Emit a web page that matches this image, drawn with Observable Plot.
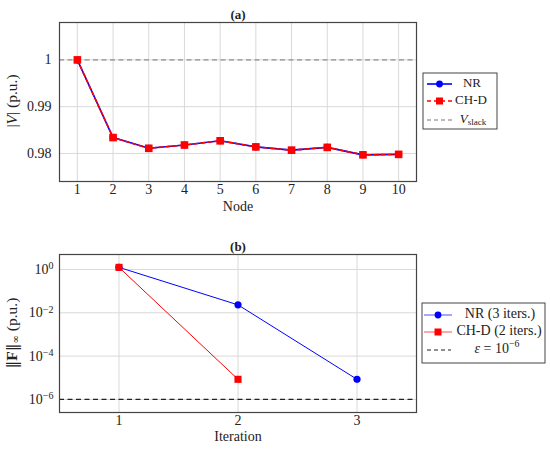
<!DOCTYPE html>
<html>
<head>
<meta charset="utf-8">
<script src="https://cdn.jsdelivr.net/npm/d3@7"></script>
<script src="https://cdn.jsdelivr.net/npm/@observablehq/plot@0.6"></script>
<style>
  html, body { margin: 0; padding: 0; background: white; }
  #chart { width: 550px; }
  #chart svg { display: block; }
</style>
</head>
<body>
<div id="chart"></div>
<script>
// ---- Data (a): voltage magnitude per node
const nodes = [1, 2, 3, 4, 5, 6, 7, 8, 9, 10];
const vNR  = [1.0000, 0.9834, 0.9811, 0.9818, 0.9827, 0.9814, 0.9807, 0.9813, 0.9797, 0.9798];
const vCHD = [1.0000, 0.9834, 0.9811, 0.9818, 0.9827, 0.9814, 0.9807, 0.9813, 0.9797, 0.9798];
const vSlack = 1.0;
const yTicksA = [0.98, 0.99, 1];

// ---- Data (b): residual norm per iteration
const iterNR = [1, 2, 3];
const resNR = [1.25, 0.0232, 8.5e-6];
const iterCHD = [1, 2];
const resCHD = [1.25, 8.5e-6];
const epsTol = 1e-6;
const iterTicks = [1, 2, 3];
const yTicksB = [1, 1e-2, 1e-4, 1e-6];

const dataA = nodes.map((n, i) => ({node: n, nr: vNR[i], chd: vCHD[i]}));
const dataNR = iterNR.map((k, i) => ({it: k, r: resNR[i]}));
const dataCHD = iterCHD.map((k, i) => ({it: k, r: resCHD[i]}));

const FONT = "Liberation Serif, Times New Roman, serif";
const expOf = d => Math.round(Math.log10(d));
const pow10 = d => "10^" + expOf(d);
const fmtA = d => d === 1 ? "1" : d3.format(".2f")(d);
const fmtInt = d => String(d);

const gridStyle = {stroke: "#d9d9d9", strokeOpacity: 1, strokeWidth: 1};
const TS = 14;

const plotA = Plot.plot({
  width: 550, height: 225,
  marginLeft: 59, marginRight: 134, marginTop: 22, marginBottom: 44,
  style: {fontFamily: FONT, fontSize: TS + "px", background: "white", color: "#222"},
  x: {domain: [0.5, 10.5], ticks: nodes, tickFormat: fmtInt, label: null},
  y: {domain: [0.974, 1.008], ticks: yTicksA, tickFormat: fmtA, label: null},
  marks: [
    Plot.gridX(nodes, gridStyle),
    Plot.gridY(yTicksA, gridStyle),
    Plot.ruleY([vSlack], {stroke: "#777", strokeWidth: 1, strokeDasharray: "5,3.5"}),
    Plot.line(dataA, {x: "node", y: "nr", stroke: "#0000ff", strokeWidth: 1.6}),
    Plot.dot(dataA, {x: "node", y: "nr", fill: "#0000ff", r: 3.5}),
    Plot.line(dataA, {x: "node", y: "chd", stroke: "#ff0000", strokeWidth: 1.6, strokeDasharray: "4,3"}),
    Plot.dot(dataA, {x: "node", y: "chd", symbol: "square", fill: "#ff0000", r: 4.3}),
    Plot.frame({stroke: "#444", strokeWidth: 1.2}),
    Plot.axisX(nodes, {tickSize: 0, tickPadding: 3, label: null, tickFormat: fmtInt, fontSize: TS, fontFamily: FONT}),
    Plot.axisY(yTicksA, {tickSize: 0, tickPadding: 8, label: null, tickFormat: fmtA, fontSize: TS, fontFamily: FONT}),
    Plot.text(["Node"], {frameAnchor: "bottom", dy: 29, fontSize: TS, fontFamily: FONT, fill: "#222"}),
    Plot.text(["(a)"], {frameAnchor: "top", dy: -13, fontSize: 13, fontFamily: FONT, fontWeight: "bold", fill: "#222"})
  ]
});

const plotB = Plot.plot({
  width: 550, height: 225,
  marginLeft: 59, marginRight: 134, marginTop: 29, marginBottom: 38,
  style: {fontFamily: FONT, fontSize: TS + "px", background: "white", color: "#222"},
  x: {domain: [0.5, 3.5], ticks: iterTicks, tickFormat: fmtInt, label: null},
  y: {type: "log", domain: [2.5e-7, 4.9], ticks: yTicksB, tickFormat: pow10, label: null},
  marks: [
    Plot.gridX(iterTicks, gridStyle),
    Plot.gridY(yTicksB, gridStyle),
    Plot.ruleY([epsTol], {stroke: "#222", strokeWidth: 1.2, strokeDasharray: "5,3.5"}),
    Plot.line(dataNR, {x: "it", y: "r", stroke: "#0000ff", strokeWidth: 1}),
    Plot.dot(dataNR, {x: "it", y: "r", fill: "#0000ff", r: 3.6}),
    Plot.line(dataCHD, {x: "it", y: "r", stroke: "#ff0000", strokeWidth: 1}),
    Plot.dot(dataCHD, {x: "it", y: "r", symbol: "square", fill: "#ff0000", r: 4}),
    Plot.frame({stroke: "#444", strokeWidth: 1.2}),
    Plot.axisX(iterTicks, {tickSize: 0, tickPadding: 3, label: null, tickFormat: fmtInt, fontSize: TS, fontFamily: FONT}),
    Plot.axisY(yTicksB, {tickSize: 0, tickPadding: 6, label: null, tickFormat: pow10, fontSize: TS, fontFamily: FONT}),
    Plot.text(["Iteration"], {frameAnchor: "bottom", dy: 28, fontSize: TS, fontFamily: FONT, fill: "#222"}),
    Plot.text(["(b)"], {frameAnchor: "top", dy: -13, fontSize: 13, fontFamily: FONT, fontWeight: "bold", fill: "#222"})
  ]
});

document.getElementById("chart").append(plotA, plotB);

// ---- Turn "10^k" tick labels into 10 with a real superscript
d3.select(plotB).selectAll("text").each(function() {
  const el = d3.select(this);
  const s = el.text();
  const m = /^10\^(-?\d+)$/.exec(s);
  if (!m) return;
  el.text("");
  el.append("tspan").text("10");
  el.append("tspan").attr("font-size", 10).attr("dy", "-0.45em").text(m[1].replace("-", "−"));
});

// ---- Rotated y labels with italic / bold / subscript parts
function addYLabel(svg, cy, parts) {
  const t = d3.select(svg).append("text")
    .attr("transform", `translate(13,${cy}) rotate(-90)`)
    .attr("text-anchor", "middle")
    .attr("dominant-baseline", "middle")
    .attr("font-family", FONT).attr("font-size", 15.5).attr("fill", "#222");
  parts.forEach(p => {
    const s = t.append("tspan").text(p.t);
    if (p.i) s.attr("font-style", "italic");
    if (p.b) s.attr("font-weight", "bold");
    if (p.f) s.attr("font-family", p.f);
    if (p.sub) s.attr("font-size", 10).attr("dy", 3);
    if (p.back) s.attr("dy", -3);
  });
}
addYLabel(plotA, 101, [{t: "|"}, {t: "V", i: true}, {t: "| (p.u.)"}]);
addYLabel(plotB, 108, [{t: "‖", f: "DejaVu Serif"}, {t: "F", b: true}, {t: "‖", f: "DejaVu Serif"}, {t: "∞", sub: true, f: "DejaVu Serif"}, {t: " (p.u.)", back: true}]);

// ---- Legends
function legend(svg, box, fs, rows) {
  const g = d3.select(svg).append("g");
  g.append("rect").attr("x", box.x).attr("y", box.y).attr("width", box.w).attr("height", box.h)
    .attr("fill", "white").attr("stroke", "#444").attr("stroke-width", 1);
  rows.forEach(r => {
    g.append("line").attr("x1", r.x1).attr("x2", r.x2).attr("y1", r.y).attr("y2", r.y)
      .attr("stroke", r.stroke).attr("stroke-width", r.sw || 1.2)
      .attr("stroke-dasharray", r.dash || null).attr("stroke-opacity", r.op || 1);
    const mx = (r.x1 + r.x2) / 2;
    if (r.mark === "circle") g.append("circle").attr("cx", mx).attr("cy", r.y).attr("r", 3.4).attr("fill", r.fill);
    if (r.mark === "square") g.append("rect").attr("x", mx - 3.5).attr("y", r.y - 3.5).attr("width", 7).attr("height", 7).attr("fill", r.fill);
    const t = g.append("text").attr("x", r.tx).attr("y", r.y).attr("text-anchor", "middle")
      .attr("dominant-baseline", "middle").attr("font-family", FONT).attr("font-size", fs).attr("fill", "#222");
    r.label.forEach(p => {
      const s = t.append("tspan").text(p.t);
      if (p.i) s.attr("font-style", "italic");
      if (p.sub) s.attr("font-size", fs * 0.7).attr("dy", 3);
      if (p.sup) s.attr("font-size", fs * 0.7).attr("dy", -5);
    });
  });
}
legend(plotA, {x: 423, y: 73, w: 74, h: 56}, 13, [
  {x1: 427, x2: 452, y: 84, stroke: "#0000ff", sw: 1.6, mark: "circle", fill: "#0000ff", tx: 472, label: [{t: "NR"}]},
  {x1: 427, x2: 452, y: 101, stroke: "#ff0000", sw: 1.6, dash: "4,3", mark: "square", fill: "#ff0000", tx: 471, label: [{t: "CH-D"}]},
  {x1: 427, x2: 452, y: 120, stroke: "#777", sw: 1, dash: "4,3", tx: 473, label: [{t: "V", i: true}, {t: "slack", sub: true}]}
]);
legend(plotB, {x: 422, y: 78, w: 123, h: 60}, 14, [
  {x1: 424, x2: 452, y: 90, stroke: "#0000ff", op: 0.5, sw: 1.4, mark: "circle", fill: "#0000ff", tx: 500, label: [{t: "NR (3 iters.)"}]},
  {x1: 424, x2: 452, y: 107, stroke: "#ff0000", op: 0.5, sw: 1.4, mark: "square", fill: "#ff0000", tx: 499, label: [{t: "CH-D (2 iters.)"}]},
  {x1: 427, x2: 451, y: 125, stroke: "#222", sw: 1.2, dash: "4,3", tx: 497, label: [{t: "ε", i: true}, {t: " = 10"}, {t: "−6", sup: true}]}
]);
</script>
</body>
</html>
